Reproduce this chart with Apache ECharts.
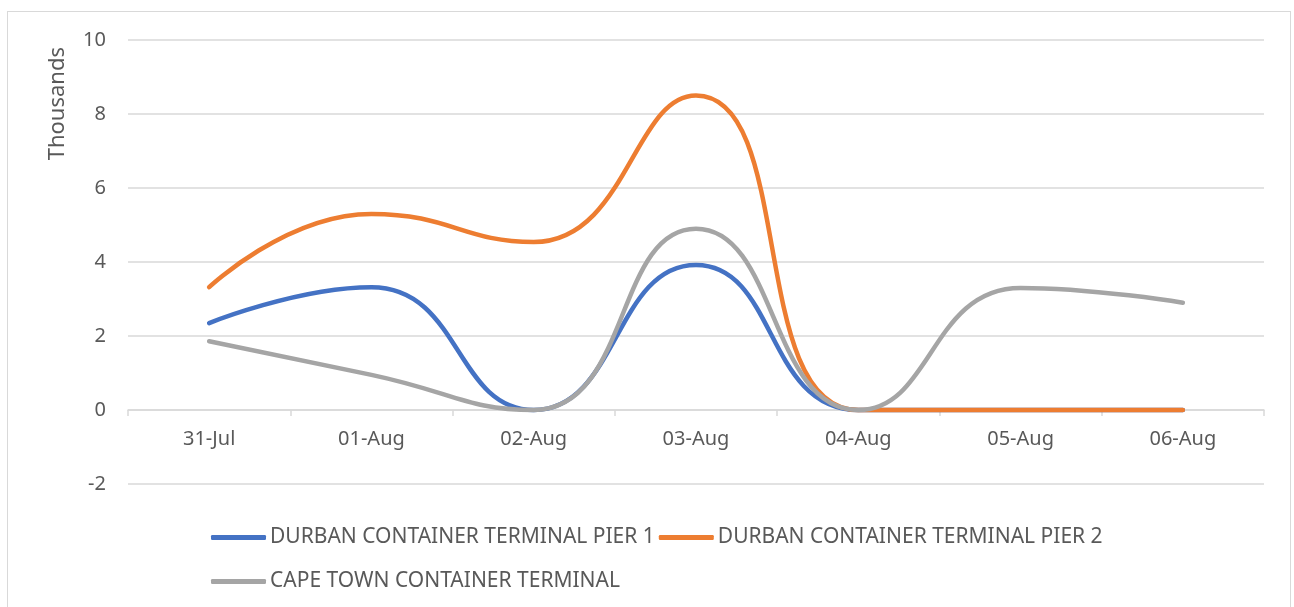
<!DOCTYPE html>
<html>
<head>
<meta charset="utf-8">
<script src="https://cdn.jsdelivr.net/npm/echarts@6/dist/echarts.min.js"></script>
<style>
  html, body { margin: 0; padding: 0; background: #fff; }
  #frame { position: absolute; left: 7px; top: 11px; width: 1284px; height: 600px; border: 1px solid #d9d9d9; box-sizing: border-box; }
  #main { position: absolute; left: 0; top: 0; width: 1294px; height: 607px; }
</style>
</head>
<body>
<div id="frame"></div>
<div id="main"></div>
<script>
var categories = ['31-Jul', '01-Aug', '02-Aug', '03-Aug', '04-Aug', '05-Aug', '06-Aug'];
var pier1 = [2.35, 3.32, 0, 3.92, 0, 0, 0];
var pier2 = [3.32, 5.3, 4.54, 8.5, 0, 0, 0];
var capeTown = [1.86, 0.95, 0, 4.9, 0, 3.3, 2.9];
var seriesNames = ['DURBAN CONTAINER TERMINAL PIER 1', 'DURBAN CONTAINER TERMINAL PIER 2', 'CAPE TOWN CONTAINER TERMINAL'];
var colors = ['#4472C4', '#ED7D31', '#A5A5A5'];

var font = "'Noto Sans', sans-serif";
var textColor = '#595959';

function makeLine(name, data, color) {
  return {
    name: name,
    type: 'line',
    data: data,
    smooth: 0.5,
    symbol: 'none',
    lineStyle: { width: 4.5, color: color, cap: 'round' },
    itemStyle: { color: color }
  };
}

function makeLegend(top, names) {
  return {
    left: 206,
    top: top,
    itemWidth: 55,
    itemHeight: 5,
    itemGap: 4,
    icon: 'roundRect',
    textStyle: { fontSize: 21, color: textColor, fontFamily: font, padding: [0, 0, 0, -1] },
    data: names
  };
}

var chart = echarts.init(document.getElementById('main'));
chart.setOption({
  animation: false,
  textStyle: { fontFamily: font },
  grid: { left: 128, right: 30, top: 40, bottom: 123 },
  legend: [
    makeLegend(522, seriesNames.slice(0, 2)),
    makeLegend(566, seriesNames.slice(2))
  ],
  graphic: [{
    type: 'text',
    left: 47,
    top: 47,
    rotation: Math.PI / 2,
    style: { text: 'Thousands', fontSize: 22, fill: textColor, fontFamily: font }
  }],
  xAxis: {
    type: 'category',
    data: categories,
    boundaryGap: true,
    position: 'bottom',
    offset: -74,
    axisLine: { onZero: false, lineStyle: { color: '#d9d9d9', width: 1.5 } },
    axisTick: { show: true, length: 6, lineStyle: { color: '#d9d9d9', width: 1.5 } },
    axisLabel: { fontSize: 20, color: textColor, margin: 19 }
  },
  yAxis: {
    type: 'value',
    min: -2,
    max: 10,
    interval: 2,
    axisLine: { show: false },
    axisTick: { show: false },
    axisLabel: { fontSize: 20, color: textColor, margin: 22 },
    splitLine: { lineStyle: { color: '#d9d9d9', width: 1.5 } }
  },
  series: [
    makeLine(seriesNames[0], pier1, colors[0]),
    makeLine(seriesNames[1], pier2, colors[1]),
    makeLine(seriesNames[2], capeTown, colors[2])
  ]
});
</script>
</body>
</html>
